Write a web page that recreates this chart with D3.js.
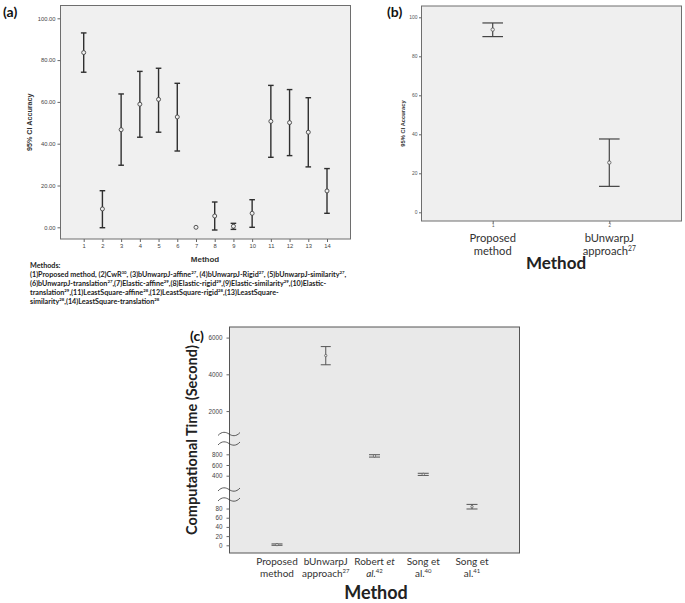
<!DOCTYPE html>
<html>
<head>
<meta charset="utf-8">
<script src="https://cdn.jsdelivr.net/npm/d3@7"></script>
<style>
  html, body { margin: 0; padding: 0; background: #fff; }
  svg { display: block; }
</style>
</head>
<body>
<svg id="chart" width="685" height="603"></svg>
<script>
// ---------- Panel (a) data ----------
const methodsA = [1, 2, 3, 4, 5, 6, 7, 8, 9, 10, 11, 12, 13, 14];
const meanA  = [83.6, 8.8, 46.7, 58.9, 61.2, 52.8, 0.0, 5.4, 0.5, 6.7, 50.7, 50.1, 45.5, 17.4];
const lowerA = [74.2, -0.2, 29.7, 43.1, 45.5, 36.5, null, -1.3, -1.0, 0.0, 33.5, 34.3, 28.9, 6.7];
const upperA = [93.0, 17.5, 63.8, 74.6, 76.1, 68.9, null, 12.1, 1.9, 13.2, 67.9, 65.9, 62.0, 28.1];
const ticksA = [0, 20, 40, 60, 80, 100];

// ---------- Panel (b) data ----------
const methodsB = ["Proposed|method", "bUnwarpJ|approach^27"];
const meanB  = [93.7, 25.5];
const lowerB = [90.1, 13.3];
const upperB = [97.1, 37.6];
const ticksB = [0, 20, 40, 60, 80, 100];

// ---------- Panel (c) data ----------
const methodsC = ["Proposed|method", "bUnwarpJ|approach^27", "Robert *et*|*al.*^42", "Song et|al.^40", "Song et|al.^41"];
const meanC  = [1.5, 5020, 770, 425, 84];
const lowerC = [0, 4520, 748, 405, 79];
const upperC = [3, 5510, 792, 445, 89];
const ticksC = [0, 20, 40, 60, 80, 400, 600, 800, 2000, 4000, 6000];

const methodsNote = [
  "(1)Proposed method, (2)CwR^30, (3)bUnwarpJ-affine^27, (4)bUnwarpJ-Rigid^27, (5)bUnwarpJ-similarity^27,",
  "(6)bUnwarpJ-translation^27,(7)Elastic-affine^29,(8)Elastic-rigid^29,(9)Elastic-similarity^29,(10)Elastic-",
  "translation^29,(11)LeastSquare-affine^28,(12)LeastSquare-rigid^28,(13)LeastSquare-",
  "similarity^28,(14)LeastSquare-translation^28"
];

const svg = d3.select("#chart");
const SANS = "'Liberation Sans', Arial, sans-serif";
const CAL = "Lato, 'Open Sans', sans-serif";

// rich text helper: ^NN superscript, *x* italic
function richText(sel, str, size) {
  const parts = str.split(/(\^\d+|\*[^*]+\*)/).filter(s => s.length);
  let pending = 0;
  parts.forEach(p => {
    let ts;
    if (p[0] === "^") {
      ts = sel.append("tspan").attr("font-size", size * 0.6).attr("dy", pending - size * 0.38).text(p.slice(1));
      pending = size * 0.38;
      return;
    } else if (p[0] === "*") {
      ts = sel.append("tspan").attr("font-size", size).attr("font-style", "italic").text(p.slice(1, -1));
    } else {
      ts = sel.append("tspan").attr("font-size", size).text(p);
    }
    if (pending) { ts.attr("dy", pending); pending = 0; }
  });
}

// ======================= Panel (a) =======================
(function () {
  const L = 60.5, R = 350.5, T = 5.5, B = 239;
  const x = d3.scaleLinear().domain([1, 14]).range([83.7, 327]);
  const y = d3.scaleLinear().domain([0, 100]).range([227.3, 18.3]);
  const g = svg.append("g");
  g.append("rect").attr("x", L).attr("y", T).attr("width", R - L).attr("height", B - T)
    .attr("fill", "#f0f0f0").attr("stroke", "#6e6e6e").attr("stroke-width", 1);

  const yAx = g.append("g").attr("transform", `translate(${L},0)`)
    .call(d3.axisLeft(y).tickValues(ticksA).tickFormat(d3.format(".2f")).tickSize(3).tickPadding(2));
  yAx.select(".domain").remove();
  yAx.selectAll("text").attr("font-family", SANS).attr("font-size", 5.8).attr("fill", "#444");
  yAx.selectAll("line").attr("stroke", "#666");

  const xAx = g.append("g").attr("transform", `translate(0,${B})`)
    .call(d3.axisBottom(x).tickValues(methodsA).tickFormat(d3.format("d")).tickSize(3).tickPadding(2));
  xAx.select(".domain").remove();
  xAx.selectAll("text").attr("font-family", SANS).attr("font-size", 5.8).attr("fill", "#444");
  xAx.selectAll("line").attr("stroke", "#666");

  methodsA.forEach((m, i) => {
    const cx = x(m);
    if (lowerA[i] !== null) {
      const eg = g.append("g").attr("stroke", "#2f2f2f").attr("stroke-width", 1.4);
      eg.append("line").attr("x1", cx).attr("x2", cx).attr("y1", y(lowerA[i])).attr("y2", y(upperA[i]));
      [lowerA[i], upperA[i]].forEach(v => eg.append("line")
        .attr("x1", cx - 2.8).attr("x2", cx + 2.8).attr("y1", y(v)).attr("y2", y(v)));
    }
    g.append("circle").attr("cx", cx).attr("cy", y(meanA[i])).attr("r", 2)
      .attr("fill", "#f0f0f0").attr("stroke", "#444").attr("stroke-width", 0.9);
  });

  g.append("text").attr("transform", `translate(32,${(T + B) / 2}) rotate(-90)`)
    .attr("text-anchor", "middle").attr("font-family", SANS).attr("font-weight", "bold")
    .attr("font-size", 7.2).attr("fill", "#333").text("95% CI Accuracy");
  g.append("text").attr("x", 205).attr("y", 262).attr("text-anchor", "middle")
    .attr("font-family", SANS).attr("font-weight", "bold").attr("font-size", 8).attr("fill", "#333").text("Method");

  g.append("text").attr("x", 3).attr("y", 17).attr("font-family", CAL).attr("font-weight", "bold")
    .attr("font-size", 14).attr("fill", "#111").text("(a)");

  g.append("text").attr("x", 30).attr("y", 268).attr("font-family", CAL).attr("font-weight", "bold")
    .attr("font-size", 7.2).attr("fill", "#222").text("Methods:");
  methodsNote.forEach((line, i) => {
    const t = g.append("text").attr("x", 30).attr("y", 277 + i * 9).attr("font-family", CAL)
      .attr("font-weight", "bold").attr("font-size", 7.2).attr("fill", "#222");
    richText(t, line, 7.2);
  });
})();

// ======================= Panel (b) =======================
(function () {
  const L = 421.5, R = 681.5, T = 6, B = 221;
  const x = d3.scaleLinear().domain([1, 2]).range([492.7, 609.3]);
  const y = d3.scaleLinear().domain([0, 100]).range([212.3, 17.3]);
  const g = svg.append("g");
  g.append("rect").attr("x", L).attr("y", T).attr("width", R - L).attr("height", B - T)
    .attr("fill", "#efefef").attr("stroke", "#6e6e6e").attr("stroke-width", 1);

  const yAx = g.append("g").attr("transform", `translate(${L},0)`)
    .call(d3.axisLeft(y).tickValues(ticksB).tickFormat(d3.format("d")).tickSize(2.5).tickPadding(1.5));
  yAx.select(".domain").remove();
  yAx.selectAll("text").attr("font-family", SANS).attr("font-size", 5).attr("fill", "#555");
  yAx.selectAll("line").attr("stroke", "#666");

  const xAx = g.append("g").attr("transform", `translate(0,${B})`)
    .call(d3.axisBottom(x).tickValues([1, 2]).tickFormat(d3.format("d")).tickSize(2.5).tickPadding(0.5));
  xAx.select(".domain").remove();
  xAx.selectAll("text").attr("font-family", SANS).attr("font-size", 4.5).attr("fill", "#555");
  xAx.selectAll("line").attr("stroke", "#666");

  methodsB.forEach((m, i) => {
    const cx = x(i + 1);
    const eg = g.append("g").attr("stroke", "#444").attr("stroke-width", 1.2);
    eg.append("line").attr("x1", cx).attr("x2", cx).attr("y1", y(lowerB[i])).attr("y2", y(upperB[i]));
    [lowerB[i], upperB[i]].forEach(v => eg.append("line")
      .attr("x1", cx - 10.3).attr("x2", cx + 10.3).attr("y1", y(v)).attr("y2", y(v)));
    g.append("circle").attr("cx", cx).attr("cy", y(meanB[i])).attr("r", 1.7)
      .attr("fill", "#efefef").attr("stroke", "#555").attr("stroke-width", 0.8);
    m.split("|").forEach((ln, j) => {
      const t = g.append("text").attr("x", cx).attr("y", 241.5 + j * 13.5).attr("text-anchor", "middle")
        .attr("font-family", CAL).attr("font-size", 11.2).attr("fill", "#333");
      richText(t, ln, 11.2);
    });
  });

  g.append("text").attr("transform", `translate(405,${(T + B) / 2 + 10}) rotate(-90)`)
    .attr("text-anchor", "middle").attr("font-family", SANS).attr("font-weight", "bold")
    .attr("font-size", 5.8).attr("fill", "#333").text("95% CI  Accuracy");
  g.append("text").attr("x", 556).attr("y", 269).attr("text-anchor", "middle")
    .attr("font-family", CAL).attr("font-weight", "bold").attr("font-size", 17).attr("fill", "#222").text("Method");
  g.append("text").attr("x", 387).attr("y", 17).attr("font-family", CAL).attr("font-weight", "bold")
    .attr("font-size", 14).attr("fill", "#111").text("(b)");
})();

// ======================= Panel (c) =======================
(function () {
  const L = 229.5, R = 519.5, T = 327, B = 553;
  // broken axis: three linear segments joined in one piecewise scale
  const y = d3.scaleLinear()
    .domain([0, 104, 170, 1030, 1100, 6560])
    .range([545.3, 497.5, 488.0, 442.0, 427.6, 327.3]);
  const x = d3.scalePoint().domain(methodsC).range([277, 472]);
  const g = svg.append("g");
  g.append("rect").attr("x", L).attr("y", T).attr("width", R - L).attr("height", B - T)
    .attr("fill", "#e9e9e9").attr("stroke", "#555").attr("stroke-width", 1);

  const yAx = g.append("g").attr("transform", `translate(${L},0)`)
    .call(d3.axisLeft(y).tickValues(ticksC).tickFormat(d3.format("d")).tickSize(3).tickPadding(4));
  yAx.select(".domain").remove();
  yAx.selectAll("text").attr("font-family", SANS).attr("font-size", 6.3).attr("fill", "#444");
  yAx.selectAll("line").attr("stroke", "#666");

  // axis break marks
  [434, 443.5, 489.5, 499.5].forEach(yy => {
    g.append("path")
      .attr("d", `M218,${yy + 1.5} C222,${yy - 3} 226,${yy - 2} 229,${yy} S236,${yy + 3} 240,${yy - 1.5}`)
      .attr("fill", "none").attr("stroke", "#333").attr("stroke-width", 0.8);
  });

  methodsC.forEach((m, i) => {
    const cx = x(m);
    const eg = g.append("g").attr("stroke", "#555").attr("stroke-width", 1);
    eg.append("line").attr("x1", cx).attr("x2", cx).attr("y1", y(lowerC[i])).attr("y2", y(upperC[i]));
    const cap = i === 1 ? 5 : 5.5;
    [lowerC[i], upperC[i]].forEach(v => eg.append("line")
      .attr("x1", cx - cap).attr("x2", cx + cap).attr("y1", y(v)).attr("y2", y(v)));
    g.append("circle").attr("cx", cx).attr("cy", y(meanC[i])).attr("r", 1.2)
      .attr("fill", "#e9e9e9").attr("stroke", "#555").attr("stroke-width", 0.7);
    m.split("|").forEach((ln, j) => {
      const t = g.append("text").attr("x", cx).attr("y", 564.5 + j * 12).attr("text-anchor", "middle")
        .attr("font-family", CAL).attr("font-size", 10).attr("fill", "#333");
      richText(t, ln, 10);
    });
  });

  g.append("text").attr("transform", `translate(197,${(T + B) / 2}) rotate(-90)`)
    .attr("text-anchor", "middle").attr("font-family", CAL).attr("font-weight", "bold")
    .attr("font-size", 14.5).attr("fill", "#222").text("Computational Time (Second)");
  g.append("text").attr("x", 376).attr("y", 599).attr("text-anchor", "middle")
    .attr("font-family", CAL).attr("font-weight", "bold").attr("font-size", 18).attr("fill", "#222").text("Method");
  g.append("text").attr("x", 190).attr("y", 341).attr("font-family", CAL).attr("font-weight", "bold")
    .attr("font-size", 14).attr("fill", "#111").text("(c)");
})();
</script>
</body>
</html>
